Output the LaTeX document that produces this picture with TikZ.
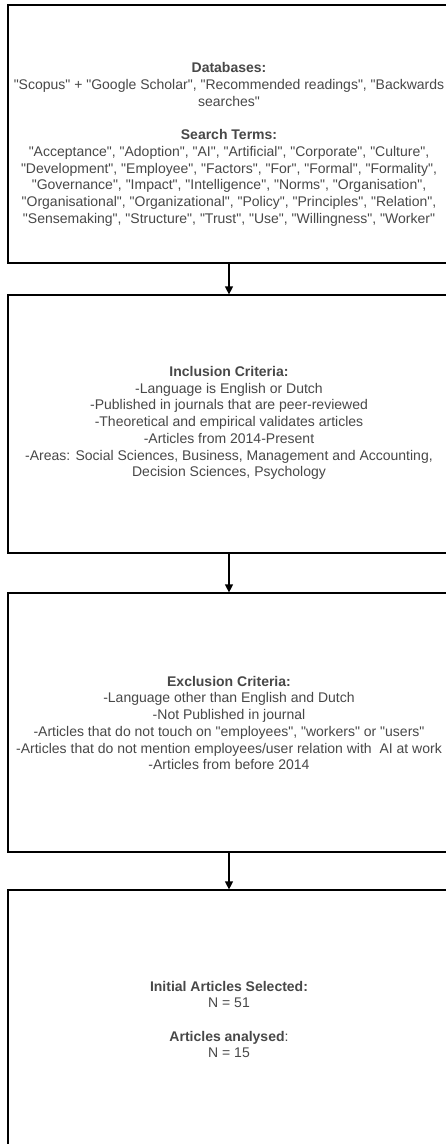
\documentclass[tikz,border=0pt]{standalone}
\usepackage{fontspec}
\setmainfont{Liberation Sans}[Ligatures=TeXOff]
\usetikzlibrary{arrows.meta}
\definecolor{txt}{RGB}{72,72,72}
\tikzset{
  stagebox/.style={draw=black, line width=1.2pt, rectangle, minimum width=442pt, inner sep=0pt},
  stagetext/.style={text=txt, align=center, inner sep=0pt, font=\fontsize{14}{16.7}\selectfont},
  flow/.style={draw=black, line width=1.2pt, -{Triangle[length=8pt,width=8pt]}}
}
\begin{document}
\begin{tikzpicture}[x=1pt,y=-1pt]
\useasboundingbox (0,0) rectangle (446,1144);
\clip (0,0) rectangle (446,1144);
\fill[white] (0,0) rectangle (446,1144);
\node[stagebox, minimum height=258pt] (b1) at (229,134) {};
\node[stagebox, minimum height=258pt] (b2) at (229,424) {};
\node[stagebox, minimum height=259pt] (b3) at (229,722.5) {};
\node[stagebox, minimum height=258pt] (b4) at (229,1019) {};
\node[stagetext] (t1) at (229,144.5) {\textbf{Databases:}\\
"Scopus" + "Google Scholar", "Recommended readings", "Backwards\\
searches"\\[16.7pt]
\textbf{Search Terms:}\\
"Acceptance", "Adoption", "AI", "Artificial", "Corporate", "Culture",\\
"Development", "Employee", "Factors", "For", "Formal", "Formality",\\
"Governance", "Impact", "Intelligence", "Norms", "Organisation",\\
"Organisational", "Organizational", "Policy", "Principles", "Relation",\\
"Sensemaking", "Structure", "Trust", "Use", "Willingness", "Worker"};
\node[stagetext] (t2) at (229,423) {\textbf{Inclusion Criteria:}\\
-Language is English or Dutch\\
-Published in journals that are peer-reviewed\\
-Theoretical and empirical validates articles\\
-Articles from 2014-Present\\
-Areas: Social Sciences, Business, Management and Accounting,\\
Decision Sciences, Psychology};
\node[stagetext] (t3) at (229,723) {\textbf{Exclusion Criteria:}\\
-Language other than English and Dutch\\
-Not Published in journal\\
-Articles that do not touch on "employees", "workers" or "users"\\
-Articles that do not mention employees/user relation with \ AI at work\\
-Articles from before 2014};
\node[stagetext] (t4) at (229,1019.5) {\textbf{Initial Articles Selected:}\\
N = 51\\[16.7pt]
\textbf{Articles analysed}:\\
N = 15};
\draw[flow] (b1.south) -- (b2.north);
\draw[flow] (b2.south) -- (b3.north);
\draw[flow] (b3.south) -- (b4.north);
\end{tikzpicture}
\end{document}
